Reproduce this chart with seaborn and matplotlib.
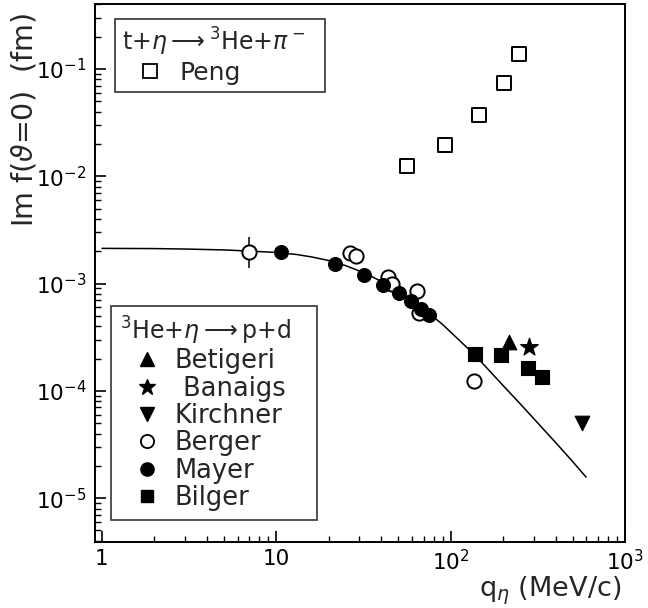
import numpy as np
import seaborn as sns
import matplotlib.pyplot as plt
from matplotlib.lines import Line2D
from matplotlib.ticker import FixedLocator, FixedFormatter, LogLocator, NullFormatter

# data
peng_q = [56, 93, 146, 203, 248]
peng_f = [0.0125, 0.0195, 0.0373, 0.0736, 0.138]

betigeri_q = [217]
betigeri_f = [2.88e-4]
banaigs_q = [283]
banaigs_f = [2.58e-4]
kirchner_q = [565]
kirchner_f = [4.99e-5]

berger_q = [7.0, 26.5, 28.7, 44, 46, 64, 66, 136]
berger_f = [1.98e-3, 1.93e-3, 1.81e-3, 1.16e-3, 1.0e-3, 8.6e-4, 5.3e-4, 1.24e-4]
mayer_q = [10.7, 21.8, 31.9, 40.9, 50.7, 59.4, 67.8, 75.6]
mayer_f = [1.96e-3, 1.51e-3, 1.2e-3, 9.7e-4, 8.1e-4, 6.9e-4, 5.76e-4, 5.1e-4]
bilger_q = [138, 194, 277, 336]
bilger_f = [2.21e-4, 2.16e-4, 1.62e-4, 1.34e-4]

curve_q = [1, 2, 3, 5, 7, 10, 13, 16, 20, 25, 30, 35, 40, 50, 60, 75, 90, 110,
           138, 170, 200, 250, 300, 400, 500, 598]
curve_f = [2.13e-3, 2.12e-3, 2.1e-3, 2.06e-3, 2.01e-3, 1.95e-3, 1.87e-3, 1.77e-3,
           1.64e-3, 1.47e-3, 1.31e-3, 1.17e-3, 1.05e-3, 8.5e-4, 7.0e-4, 5.3e-4,
           4.15e-4, 3.05e-4, 2.15e-4, 1.49e-4, 1.12e-4, 7.6e-5, 5.5e-5, 3.3e-5,
           2.2e-5, 1.57e-5]

sns.set_style("white")
plt.rcParams['font.family'] = ['DejaVu Sans']
plt.rcParams['mathtext.fontset'] = 'dejavusans'

fig = plt.figure(figsize=(6.48, 6.08), dpi=100)
ax = fig.add_axes([95/648, 1-542/608, 530/648, 538/608])

sns.lineplot(x=curve_q, y=curve_f, color="black", linewidth=1.1, ax=ax, sort=False)

# a few error bars
ax.errorbar([7.0], [1.98e-3], yerr=[[0.59e-3], [0.76e-3]], fmt="none", ecolor="black", elinewidth=1.1)
ax.errorbar([10.7], [1.96e-3], yerr=[[0.22e-3], [0.25e-3]], fmt="none", ecolor="black", elinewidth=1.1)
ax.errorbar([565], [4.99e-5], yerr=[[0.5e-5], [0.3e-5]], fmt="none", ecolor="black", elinewidth=1.1)

kw = dict(ax=ax, legend=False, zorder=3)
sns.scatterplot(x=peng_q, y=peng_f, marker="s", s=105, facecolor="white", edgecolor="black", linewidth=1.4, **kw)
sns.scatterplot(x=berger_q, y=berger_f, marker="o", s=105, facecolor="white", edgecolor="black", linewidth=1.4, **kw)
sns.scatterplot(x=mayer_q, y=mayer_f, marker="o", s=100, color="black", edgecolor="black", **kw)
sns.scatterplot(x=bilger_q, y=bilger_f, marker="s", s=100, color="black", edgecolor="black", **kw)
sns.scatterplot(x=betigeri_q, y=betigeri_f, marker="^", s=110, color="black", edgecolor="black", **kw)
sns.scatterplot(x=banaigs_q, y=banaigs_f, marker="*", s=170, color="black", edgecolor="black", **kw)
sns.scatterplot(x=kirchner_q, y=kirchner_f, marker="v", s=110, color="black", edgecolor="black", **kw)

ax.set_xscale("log")
ax.set_yscale("log")
ax.set_xlim(0.912, 1000)
ax.set_ylim(3.9e-6, 0.404)

ax.xaxis.set_major_locator(FixedLocator([1, 10, 100, 1000]))
ax.xaxis.set_major_formatter(FixedFormatter(["1", "10", "$10^2$", "$10^3$"]))
ax.xaxis.set_minor_locator(LogLocator(base=10, subs=np.arange(2, 10)))
ax.xaxis.set_minor_formatter(NullFormatter())
ax.yaxis.set_minor_locator(LogLocator(base=10, subs=np.arange(2, 10), numticks=20))
ax.yaxis.set_minor_formatter(NullFormatter())

ax.tick_params(which="both", direction="in", bottom=True, left=True, top=False, right=False,
               labelsize=15.5, colors="black")
ax.tick_params(which="major", length=8, width=1.2)
ax.tick_params(axis="x", which="major", pad=5)
ax.tick_params(axis="y", which="major", pad=6)
ax.tick_params(which="minor", length=4.5, width=1.0)
for s in ax.spines.values():
    s.set_linewidth(1.4)
    s.set_color("black")

ax.set_ylabel(r"Im f($\vartheta$=0)  (fm)", fontsize=20.5)
ax.yaxis.set_label_coords(-0.107, 0.785)
ax.set_xlabel(r"q$_\eta$ (MeV/c)", fontsize=19.5, ha="right", va="bottom")
ax.xaxis.set_label_coords(0.9925, -0.1208)

# legends
blk = dict(color="black", linestyle="none")
h_top = [Line2D([], [], marker="s", markersize=9.5, markerfacecolor="white", markeredgecolor="black",
                markeredgewidth=1.3, **blk)]
leg1 = ax.legend(h_top, ["Peng"], title=r"t+$\eta$$\longrightarrow$$^3$He+$\pi^-$  ",
                 loc="upper left", bbox_to_anchor=(0.037, 0.972), borderaxespad=0,
                 fontsize=18, title_fontsize=17, frameon=True, fancybox=False,
                 edgecolor="black", handlelength=2.3, handletextpad=0.0, borderpad=0.28,
                 labelspacing=0.1, alignment="left")
leg1.get_frame().set_linewidth(1.2)
ax.add_artist(leg1)

h_bot = [
    Line2D([], [], marker="^", markersize=10, markerfacecolor="black", **blk),
    Line2D([], [], marker="*", markersize=12, markerfacecolor="black", **blk),
    Line2D([], [], marker="v", markersize=10, markerfacecolor="black", **blk),
    Line2D([], [], marker="o", markersize=9.5, markerfacecolor="white", markeredgecolor="black", markeredgewidth=1.3, **blk),
    Line2D([], [], marker="o", markersize=9.5, markerfacecolor="black", **blk),
    Line2D([], [], marker="s", markersize=9, markerfacecolor="black", **blk),
]
labels_bot = ["Betigeri", " Banaigs", "Kirchner", "Berger", "Mayer", "Bilger"]
leg2 = ax.legend(h_bot, labels_bot, title=r"$^3$He+$\eta$$\longrightarrow$p+d   ",
                 loc="upper left", bbox_to_anchor=(0.0296, 0.4387), borderaxespad=0,
                 fontsize=18.5, title_fontsize=17, frameon=True, fancybox=False,
                 edgecolor="black", handlelength=2.15, handletextpad=0.0, borderpad=0.35,
                 labelspacing=0.05, alignment="left")
leg2.get_frame().set_linewidth(1.2)

fig.savefig("out.png", dpi=100)
